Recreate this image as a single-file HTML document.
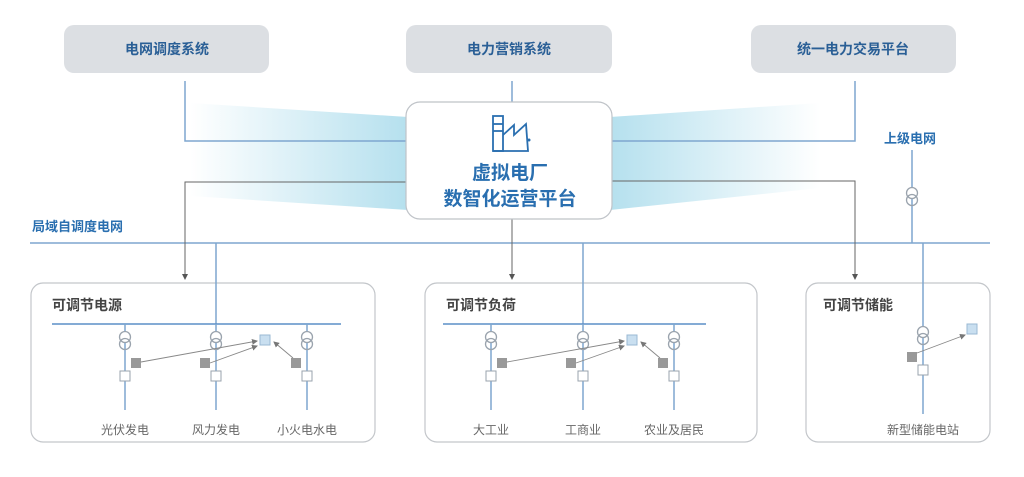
<!DOCTYPE html>
<html><head><meta charset="utf-8"><style>
html,body{margin:0;padding:0;background:#fff;width:1024px;height:477px;overflow:hidden}
svg{display:block}
text{font-family:"Liberation Sans","Noto Sans CJK SC",sans-serif}
</style></head><body>
<svg width="1024" height="477" viewBox="0 0 1024 477" xmlns="http://www.w3.org/2000/svg">
<defs>
<linearGradient id="gl" x1="0" x2="1" y1="0" y2="0"><stop offset="0" stop-color="#b5e0ee" stop-opacity="0"/><stop offset="1" stop-color="#b5e0ee"/></linearGradient>
<linearGradient id="gr" x1="1" x2="0" y1="0" y2="0"><stop offset="0" stop-color="#b5e0ee" stop-opacity="0"/><stop offset="1" stop-color="#b5e0ee"/></linearGradient>
<marker id="ar" markerWidth="6" markerHeight="6" refX="5" refY="3" orient="auto" markerUnits="userSpaceOnUse"><path d="M0,0 L6,3 L0,6z" fill="#555"/></marker>
<marker id="ag" markerWidth="6" markerHeight="6" refX="5" refY="3" orient="auto" markerUnits="userSpaceOnUse"><path d="M0,0 L6,3 L0,6z" fill="#777"/></marker>
<g id="tr"><circle cx="0" cy="0" r="5.5" fill="#fff" stroke="#9aa3ad" stroke-width="1.3"/><circle cx="0" cy="7" r="5.5" fill="none" stroke="#9aa3ad" stroke-width="1.3"/></g>
</defs>
<polygon points="190,103 408,117 408,210 190,196" fill="url(#gl)"/>
<polygon points="610,117 820,103 820,188 610,210" fill="url(#gr)"/>
<rect x="64" y="25" width="205" height="48" rx="10" fill="#dcdfe3"/>
<rect x="406" y="25" width="206" height="48" rx="10" fill="#dcdfe3"/>
<rect x="751" y="25" width="205" height="48" rx="10" fill="#dcdfe3"/>
<g font-size="14" font-weight="bold" fill="#2a5f96" text-anchor="middle">
<text x="167" y="54">电网调度系统</text>
<text x="509" y="54">电力营销系统</text>
<text x="853" y="54">统一电力交易平台</text>
</g>
<!-- panels (behind lines) -->
<g fill="#fff" stroke="#c3c6ca" stroke-width="1.2">
<rect x="31" y="283" width="344" height="159" rx="12"/>
<rect x="425" y="283" width="332" height="159" rx="12"/>
<rect x="806" y="283" width="184" height="159" rx="12"/>
</g>
<g stroke="#7ea6cf" stroke-width="1.5" fill="none">
<polyline points="185,81 185,141 408,141"/>
<line x1="512" y1="81" x2="512" y2="102"/>
<polyline points="855,81 855,141 610,141"/>
<line x1="30" y1="243" x2="990" y2="243"/>
<line x1="912" y1="150" x2="912" y2="243"/>
<line x1="216" y1="243" x2="216" y2="324"/>
<line x1="583" y1="243" x2="583" y2="324"/>
<line x1="923" y1="243" x2="923" y2="330"/>
</g>
<g stroke="#666" stroke-width="1" fill="none">
<polyline points="408,182 185,182 185,279" marker-end="url(#ar)"/>
<line x1="512" y1="219" x2="512" y2="279" marker-end="url(#ar)"/>
<polyline points="610,181 855,181 855,279" marker-end="url(#ar)"/>
</g>
<rect x="406" y="102" width="206" height="117" rx="14" fill="#fff" stroke="#bfc3c8" stroke-width="1.2"/>
<g stroke="#2a6fb0" stroke-width="1.8" fill="none">
<rect x="493" y="116" width="10" height="35"/>
<line x1="493" y1="124" x2="503" y2="124"/><line x1="493" y1="131" x2="503" y2="131"/>
<polyline points="503,135 514,125 514,135 526,124 528,151 493,151"/>
</g>
<circle cx="529" cy="140" r="1.5" fill="#2a6fb0"/>
<g font-size="19" font-weight="bold" fill="#2a6fb0" text-anchor="middle">
<text x="510" y="179">虚拟电厂</text>
<text x="510" y="205">数智化运营平台</text>
</g>
<text x="32" y="231" font-size="13" font-weight="bold" fill="#2a6fb0">局域自调度电网</text>
<text x="884" y="143" font-size="13" font-weight="bold" fill="#2a6fb0">上级电网</text>
<use href="#tr" x="912" y="193"/>
<g font-size="14" font-weight="bold" fill="#444">
<text x="52" y="310">可调节电源</text>
<text x="446" y="310">可调节负荷</text>
<text x="823" y="310">可调节储能</text>
</g>
<g stroke="#5b8fc7" stroke-width="1.5">
<line x1="52" y1="324" x2="341" y2="324"/>
<line x1="443" y1="324" x2="706" y2="324"/>
</g>
<g stroke="#7ea6cf" stroke-width="1.5">
<line x1="125" y1="324" x2="125" y2="410"/><line x1="216" y1="324" x2="216" y2="410"/><line x1="307" y1="324" x2="307" y2="410"/>
<line x1="491" y1="324" x2="491" y2="410"/><line x1="583" y1="324" x2="583" y2="410"/><line x1="674" y1="324" x2="674" y2="410"/>
<line x1="923" y1="330" x2="923" y2="414"/>
</g>
<use href="#tr" x="125" y="337"/><use href="#tr" x="216" y="337"/><use href="#tr" x="307" y="337"/>
<use href="#tr" x="491" y="337"/><use href="#tr" x="583" y="337"/><use href="#tr" x="674" y="337"/>
<use href="#tr" x="923" y="332"/>
<g fill="#fff" stroke="#9aa3ad" stroke-width="1">
<rect x="120" y="371" width="10" height="10"/><rect x="211" y="371" width="10" height="10"/><rect x="302" y="371" width="10" height="10"/>
<rect x="486" y="371" width="10" height="10"/><rect x="578" y="371" width="10" height="10"/><rect x="669" y="371" width="10" height="10"/>
<rect x="918" y="365" width="10" height="10"/>
</g>
<g fill="#999">
<rect x="131" y="358" width="10" height="10"/><rect x="200" y="358" width="10" height="10"/><rect x="291" y="358" width="10" height="10"/>
<rect x="497" y="358" width="10" height="10"/><rect x="566" y="358" width="10" height="10"/><rect x="658" y="358" width="10" height="10"/>
<rect x="907" y="352" width="10" height="10"/>
</g>
<g fill="#c9dff0" stroke="#9ab8d3" stroke-width="1">
<rect x="260" y="335" width="10" height="10"/><rect x="627" y="335" width="10" height="10"/><rect x="967" y="324" width="10" height="10"/>
</g>
<g stroke="#888" stroke-width="0.9" fill="none">
<line x1="141" y1="362" x2="257" y2="341" marker-end="url(#ag)"/>
<line x1="210" y1="363" x2="257" y2="346" marker-end="url(#ag)"/>
<line x1="293" y1="358" x2="274" y2="342" marker-end="url(#ag)"/>
<line x1="507" y1="362" x2="624" y2="341" marker-end="url(#ag)"/>
<line x1="576" y1="363" x2="624" y2="346" marker-end="url(#ag)"/>
<line x1="660" y1="358" x2="641" y2="342" marker-end="url(#ag)"/>
<line x1="917" y1="353" x2="965" y2="335" marker-end="url(#ag)"/>
</g>
<g font-size="12" fill="#666" text-anchor="middle">
<text x="125" y="434">光伏发电</text><text x="216" y="434">风力发电</text><text x="307" y="434">小火电水电</text>
<text x="491" y="434">大工业</text><text x="583" y="434">工商业</text><text x="674" y="434">农业及居民</text>
<text x="923" y="434">新型储能电站</text>
</g>
</svg>
</body></html>
